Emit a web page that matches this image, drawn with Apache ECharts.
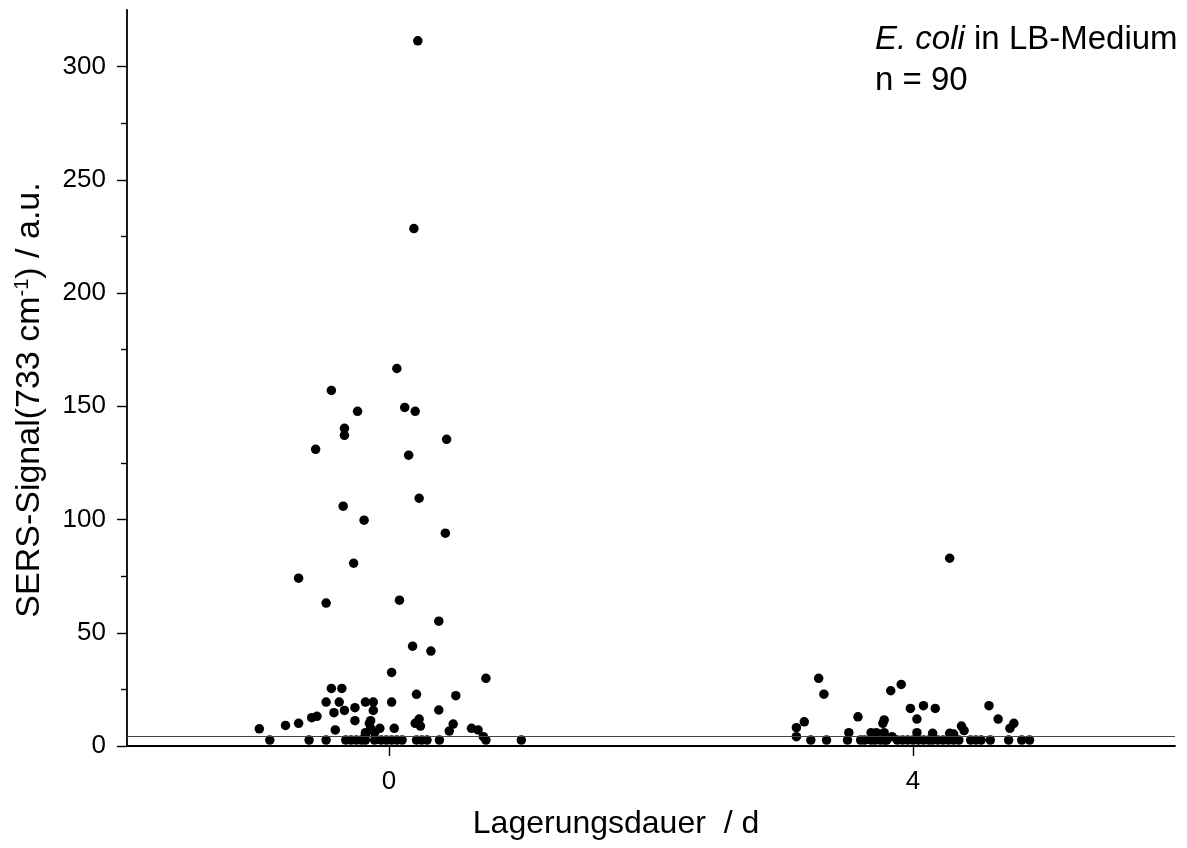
<!DOCTYPE html>
<html>
<head>
<meta charset="utf-8">
<title>SERS-Signal E. coli</title>
<script src="https://cdn.jsdelivr.net/npm/echarts@6/dist/echarts.min.js"></script>
<style>
  html, body { margin: 0; padding: 0; background: #fff; }
  #chart { width: 1187px; height: 848px; }
</style>
</head>
<body>
<div id="chart"></div>
<script>
// Storage time (days) with horizontal jitter, and SERS signal at 733 cm-1 (a.u.)
const day0Pos = [
  0.22, 0.19, 0.06, -0.44, 0.12, 0.20, -0.24, -0.34, -0.34, 0.44, -0.56, 0.15,
  0.23, -0.35, -0.19, 0.43, -0.27, -0.69, 0.08, -0.48, 0.38, 0.18, 0.32,
  0.02, 0.74, -0.44, -0.36, 0.21, 0.51, -0.48, -0.38, -0.18, -0.12, 0.02,
  -0.26, -0.34, -0.12, 0.38, -0.42, -0.55, -0.59, 0.23, -0.26, -0.14,
  -0.69, -0.15, 0.20, 0.49, -0.79, 0.24, -0.99, -0.14, -0.07, 0.04, 0.63,
  -0.41, 0.68, 0.46, -0.18, -0.11, 0.72, -0.18,
  -0.91, -0.61, -0.48, -0.33, -0.29, -0.25, -0.21, -0.18, -0.11, -0.06,
  -0.02, 0.02, 0.06, 0.10, 0.21, 0.25, 0.29, 0.385, 0.74, 1.01
];
const day0Signal = [
  311.4, 228.5, 166.7, 157.0, 149.5, 147.8, 147.8, 140.3, 137.2, 135.4, 131.0, 128.4,
  109.4, 105.9, 99.7, 94.0, 80.7, 74.1, 64.4, 63.1, 55.1, 44.1, 41.9,
  32.5, 29.9, 25.4, 25.4, 22.8, 22.2, 19.4, 19.4, 19.4, 19.4, 19.4,
  16.9, 15.7, 15.7, 15.9, 14.7, 13.1, 12.5, 11.9, 11.2, 11.2,
  10.0, 10.0, 10.0, 9.7, 9.1, 8.8, 7.6, 7.8, 7.8, 7.8, 7.8,
  7.1, 7.1, 6.6, 5.9, 5.9, 4.1, 4.9,
  2.6, 2.6, 2.6, 2.6, 2.6, 2.6, 2.6, 2.6, 2.6, 2.6,
  2.6, 2.6, 2.6, 2.6, 2.6, 2.6, 2.6, 2.6, 2.6, 2.6
];
const day4Pos = [
  4.28, 3.28, 3.91, 3.83, 3.32, 4.08, 4.58, 3.98, 4.17, 3.58, 4.03, 4.65,
  3.78, 3.17, 3.77, 4.77, 4.37, 3.11, 4.74, 4.39, 3.51, 3.68, 3.72, 3.78,
  4.03, 4.15, 4.28, 4.31, 3.11, 3.84,
  3.22, 3.34, 3.50, 3.60, 3.63, 3.68, 3.71, 3.75, 3.78, 3.80, 3.88, 3.92,
  3.96, 4.00, 4.04, 4.08, 4.12, 4.15, 4.19, 4.23, 4.27, 4.31, 4.35, 4.44,
  4.48, 4.52, 4.59, 4.73, 4.83, 4.89
];
const day4Signal = [
  82.9, 29.9, 27.2, 24.4, 22.9, 17.8, 17.8, 16.6, 16.6, 12.9, 11.9, 11.9,
  11.5, 10.7, 10.0, 10.0, 8.8, 8.1, 7.8, 6.8, 5.9, 5.9, 5.9, 5.9,
  5.9, 5.6, 5.6, 5.3, 4.1, 4.1,
  2.6, 2.6, 2.6, 2.6, 2.6, 2.6, 2.6, 2.6, 2.6, 2.6, 2.6, 2.6,
  2.6, 2.6, 2.6, 2.6, 2.6, 2.6, 2.6, 2.6, 2.6, 2.6, 2.6, 2.6,
  2.6, 2.6, 2.6, 2.6, 2.6, 2.6
];
const thresholdLevel = 4.4;
const xTickValues = [0, 4];
const yTickValues = [0, 50, 100, 150, 200, 250, 300];
const yMinorTickValues = [25, 75, 125, 175, 225, 275];

const FONT = '"Liberation Sans", Arial, sans-serif';
const zip = (xs, ys) => xs.map((x, i) => [x, ys[i]]);

const chart = echarts.init(document.getElementById('chart'), null, { renderer: 'canvas' });

const yBase = {
  type: 'value', min: 0, max: 325, position: 'left',
  splitLine: { show: false }
};

const dotStyle = { color: '#000', opacity: 1 };

chart.setOption({
  animation: false,
  backgroundColor: '#ffffff',
  grid: { left: 127, right: 12, top: 10, bottom: 102, containLabel: false },
  xAxis: {
    type: 'value', min: -2, max: 6,
    axisLine: { onZero: false, lineStyle: { color: '#000', width: 1.8 } },
    axisTick: { show: true, customValues: xTickValues, length: 10, lineStyle: { color: '#000', width: 1.4 } },
    axisLabel: { customValues: xTickValues, color: '#000', fontFamily: FONT, fontSize: 26, margin: 23 },
    splitLine: { show: false }
  },
  yAxis: [
    Object.assign({}, yBase, {
      axisLine: { show: true, onZero: false, lineStyle: { color: '#000', width: 1.8 } },
      axisTick: { show: true, customValues: yTickValues, length: 10, lineStyle: { color: '#000', width: 1.4 } },
      axisLabel: { customValues: yTickValues, color: '#000', fontFamily: FONT, fontSize: 26, margin: 21 }
    }),
    Object.assign({}, yBase, {
      axisLine: { show: false, onZero: false },
      axisTick: { show: true, customValues: yMinorTickValues, length: 6, lineStyle: { color: '#000', width: 1.4 } },
      axisLabel: { show: false }
    })
  ],
  series: [
    {
      name: '0 d', type: 'scatter', symbol: 'circle', symbolSize: 9.5,
      itemStyle: dotStyle,
      data: zip(day0Pos, day0Signal),
      markLine: {
        silent: true, symbol: ['none', 'none'], label: { show: false },
        lineStyle: { color: '#444', width: 1, type: 'solid', opacity: 1 },
        data: [{ yAxis: thresholdLevel }]
      }
    },
    {
      name: '4 d', type: 'scatter', symbol: 'circle', symbolSize: 9.5,
      itemStyle: dotStyle,
      data: zip(day4Pos, day4Signal)
    }
  ],
  graphic: [
    {
      type: 'text', left: 875, top: 19,
      style: {
        text: '{i|E. coli} in LB-Medium\nn = 90',
        fill: '#000', font: '33px ' + FONT, lineHeight: 41,
        rich: { i: { fontStyle: 'italic', fontFamily: FONT, fontSize: 33, fill: '#000' } }
      }
    },
    {
      type: 'text', x: 30, y: 400, rotation: Math.PI / 2,
      style: {
        text: 'SERS-Signal(733 cm{sup|-1}) / a.u.',
        fill: '#000', font: '34px ' + FONT, align: 'center', verticalAlign: 'middle',
        rich: { sup: { fontSize: 20, fontFamily: FONT, verticalAlign: 'top', padding: [0, 0, 15, 0], fill: '#000' } }
      }
    },
    {
      type: 'text', x: 616, y: 824,
      style: {
        text: 'Lagerungsdauer  / d',
        fill: '#000', font: '32px ' + FONT, align: 'center', verticalAlign: 'middle'
      }
    }
  ]
});
</script>
</body>
</html>
